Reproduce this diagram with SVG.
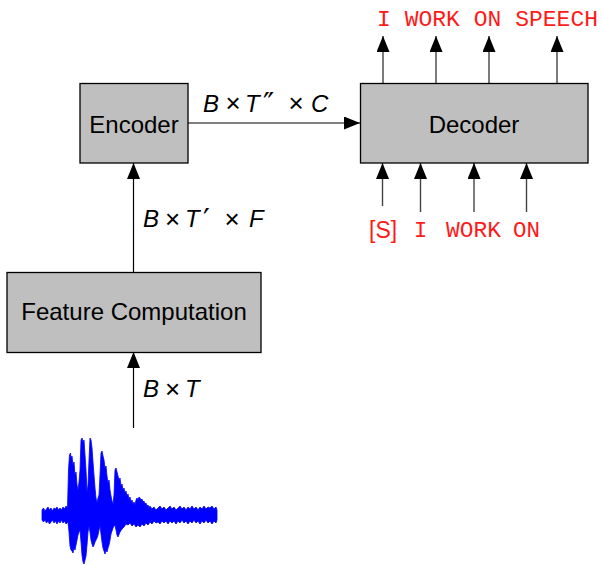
<svg xmlns="http://www.w3.org/2000/svg" width="602" height="565" viewBox="0 0 602 565">
<style>
.box{fill:#bfbfbf;stroke:#000;stroke-width:1.3}
.lbl{font-family:"Liberation Sans","DejaVu Sans",sans-serif;font-size:24px;fill:#000}
.it{font-family:"Liberation Sans","DejaVu Sans",sans-serif;font-size:24px;font-style:italic;fill:#000}
.times{font-family:"Liberation Sans","DejaVu Sans",sans-serif;font-size:26px;fill:#000}
.prime{font-family:"DejaVu Sans",sans-serif;font-size:30px;fill:#000}
.tok{font-family:"Liberation Mono","DejaVu Sans Mono",monospace;font-size:22px;fill:#ff1a1a}
.tokS{font-family:"Liberation Sans","DejaVu Sans",sans-serif;font-size:23px;fill:#ff1a1a}
.conn{stroke:#000;stroke-width:1.2;fill:none;marker-end:url(#ah)}
.tconn{stroke:#444;stroke-width:1.4;fill:none;marker-end:url(#ah)}
</style>
<defs>
<marker id="ah" markerUnits="userSpaceOnUse" markerWidth="16" markerHeight="13" refX="16" refY="6.5" orient="auto">
<path d="M0,0 L16,6.5 L0,13 z" fill="#000"/>
</marker>
</defs>
<rect width="602" height="565" fill="#fff"/>
<g id="connectors">
<path class="conn" d="M188 123 H360"/>
<path class="conn" d="M133.5 272 V163"/>
<path class="conn" d="M133.5 428 V352"/>
<path class="tconn" d="M383 83 V36"/>
<path class="tconn" d="M436 83 V36"/>
<path class="tconn" d="M489 83 V36"/>
<path class="tconn" d="M557 83 V36"/>
<path class="tconn" d="M382.5 206 V163"/>
<path class="tconn" d="M420.5 212 V163"/>
<path class="tconn" d="M474 212 V163"/>
<path class="tconn" d="M526.5 212 V163"/>
</g>
<g id="encoder">
<rect class="box" x="80" y="83.5" width="108" height="79.5"/>
<text class="lbl" x="134" y="133" text-anchor="middle">Encoder</text>
</g>
<g id="decoder">
<rect class="box" x="360.5" y="83.5" width="227.5" height="79.5"/>
<text class="lbl" x="474" y="133" text-anchor="middle">Decoder</text>
</g>
<g id="feature">
<rect class="box" x="7" y="272.5" width="254" height="80"/>
<text class="lbl" x="134" y="320" text-anchor="middle">Feature Computation</text>
</g>
<g id="labels">
<text class="it" x="203" y="111.5">B</text>
<text class="times" x="233" y="112" text-anchor="middle">×</text>
<text class="it" x="245" y="111.5">T</text>
<text class="prime" x="263" y="114">″</text>
<text class="times" x="296" y="112" text-anchor="middle">×</text>
<text class="it" x="311" y="111.5">C</text>

<text class="it" x="143" y="227">B</text>
<text class="times" x="172.5" y="227.5" text-anchor="middle">×</text>
<text class="it" x="185" y="227">T</text>
<text class="prime" x="203" y="229.5">′</text>
<text class="times" x="232" y="227.5" text-anchor="middle">×</text>
<text class="it" x="249" y="227">F</text>

<text class="it" x="143" y="397">B</text>
<text class="times" x="172.5" y="397.5" text-anchor="middle">×</text>
<text class="it" x="185" y="397">T</text>
</g>
<g id="outputs">
<text class="tok" x="377" y="26" textLength="221" lengthAdjust="spacingAndGlyphs">I WORK ON SPEECH</text>
</g>
<g id="inputs">
<text class="tokS" x="369" y="238">[S]</text>
<text class="tok" x="420.5" y="237" text-anchor="middle">I</text>
<text class="tok" x="446" y="237" textLength="55" lengthAdjust="spacingAndGlyphs">WORK</text>
<text class="tok" x="513" y="237" textLength="27" lengthAdjust="spacingAndGlyphs">ON</text>
</g>
<g id="waveform">
<path fill="#0000ff" stroke="#0000ff" stroke-width="0.8" stroke-linejoin="round" d="M42 510 L43.5 508 L45 511 L46.5 509 L48 507 L49.5 510 L51 508 L52.5 511 L54 508 L55.5 509 L57 507 L58.5 510 L60 508 L61.5 510 L63 507 L64.5 509 L66 506 L67.5 508 L68.5 470 L69.5 455 L70.5 453 L71 458 L72 456 L73 465 L74 462 L75 475 L76 472 L77 485 L78 490 L79 482 L80 470 L81 440 L82 438 L83 442 L84 440 L85 455 L86 470 L87 492 L88 485 L89 460 L90 438 L91 440 L92 448 L93 462 L94 475 L95 488 L96 498 L97 503 L98 498 L99 495 L100 475 L101 453 L102 451 L103 456 L104 460 L105 468 L106 466 L107 476 L108 483 L109 480 L110 490 L111 496 L112 501 L113 504 L114 495 L115 470 L116 468 L117 472 L118 476 L119 480 L120 478 L121 486 L122 484 L123 490 L124 488 L125 493 L126 491 L127 496 L128 494 L129 499 L130 497 L131 502 L132 500 L133 504 L134 502 L135 505 L136 500 L137 498 L138 500 L139 497 L140 498 L141 500 L142 499 L143 502 L144 501 L145 504 L146 503 L147 506 L148 505 L149 508 L150 506 L152 509 L154 507 L156 510 L158 508 L160 506 L162 509 L164 507 L166 510 L168 508 L170 506 L172 509 L174 507 L176 510 L178 508 L180 506 L182 509 L184 507 L186 510 L188 507 L190 509 L192 506 L194 509 L196 507 L198 510 L200 507 L202 509 L204 506 L206 509 L208 507 L210 508 L212 506 L214 509 L216 507 L217 510 L217 520 L216 523 L214 521 L212 524 L210 521 L208 523 L206 520 L204 523 L202 521 L200 524 L198 521 L196 523 L194 520 L192 523 L190 521 L188 524 L186 521 L184 523 L182 520 L180 523 L178 521 L176 524 L174 521 L172 523 L170 521 L168 524 L166 521 L164 523 L162 521 L160 524 L158 522 L156 523 L154 521 L152 524 L150 522 L148 525 L146 523 L144 526 L142 524 L140 527 L138 525 L136 527 L134 524 L132 526 L130 523 L128 525 L126 524 L124 527 L122 529 L120 532 L118 537 L117 535 L116 530 L115 525 L114 526 L113 528 L112 531 L111 534 L110 540 L109 545 L108 548 L107 552 L106 550 L105 554 L104 551 L103 548 L102 542 L101 534 L100 526 L99 530 L98 535 L97 538 L96 540 L95 542 L94 545 L93 547 L92 544 L91 540 L90 532 L89 526 L88 532 L87 545 L86 556 L85 560 L84 564 L83 562 L82 555 L81 542 L80 530 L79 532 L78 535 L77 540 L76 545 L75 550 L74 548 L73 553 L72 551 L71 550 L70 546 L69 532 L68 522 L66 524 L64.5 521 L63 523 L61.5 520 L60 523 L58.5 521 L57 524 L55.5 521 L54 523 L52.5 520 L51 522 L49.5 524 L48 521 L46.5 523 L45 520 L43.5 522 L42 520 Z"/>
</g>
</svg>
